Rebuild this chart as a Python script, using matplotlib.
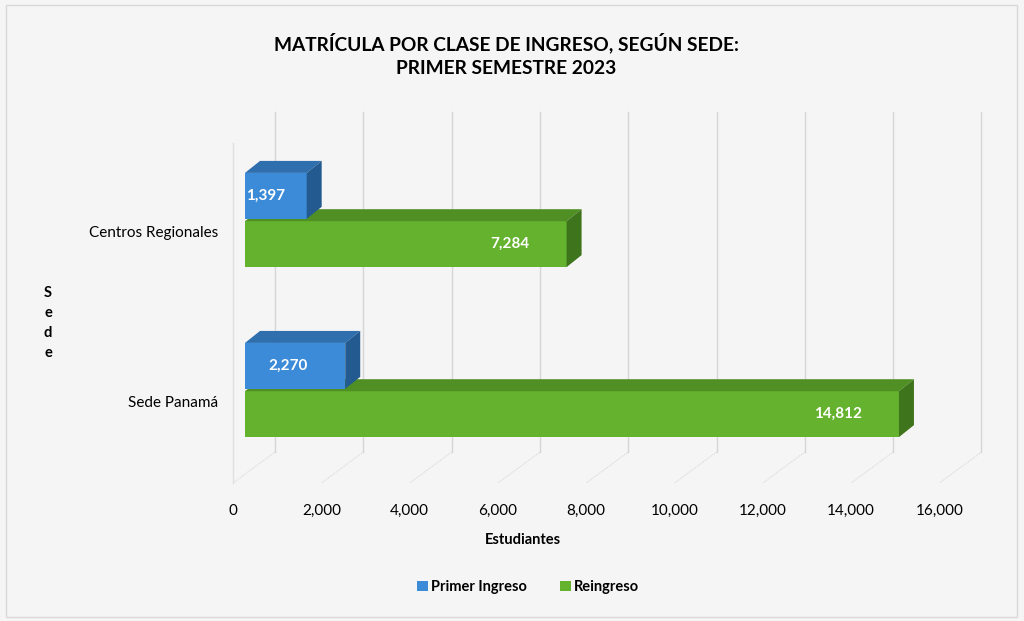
import matplotlib.pyplot as plt
from matplotlib.patches import Polygon, Rectangle
from matplotlib.transforms import ScaledTranslation

plt.rcParams['font.family'] = ['Lato', 'DejaVu Sans']

sedes = ['Centros Regionales', 'Sede Panamá']
primer_ingreso = [1397, 2270]
reingreso = [7284, 14812]
xticks = [0, 2000, 4000, 6000, 8000, 10000, 12000, 14000, 16000]

title = 'MATRÍCULA POR CLASE DE INGRESO, SEGÚN SEDE:\nPRIMER SEMESTRE 2023'

bg = '#f5f5f5'
blue = ('#3c8bd8', '#2f6fae', '#235a8f')     # front, top, side
green = ('#64b22e', '#4f8f24', '#3e751c')

fig = plt.figure(figsize=(10.24, 6.21), dpi=100, facecolor=bg)
fig.patches.append(Rectangle((0.006, 0.006), 0.987, 0.986, transform=fig.transFigure,
                             fill=False, ec='#d9d9d9', lw=1))
ax = fig.add_axes([245 / 1024, 1 - 490 / 621, 745 / 1024, 380 / 621])
ax.set_facecolor('none')
ax.set_xlim(0, 745 * 22.65)
ax.set_ylim(-0.588, 1.647)

# 3D-ish offsets (data units)
back_dx = 30 * 22.65
front_dx = -12 * 22.65
y_top, y_floor_back, y_floor_front = 1.635, -0.365, -0.547
for t in xticks:
    ax.plot([t + back_dx, t + back_dx], [y_floor_back, y_top], color='#d6d6d6', lw=1.0, zorder=1)
    ax.plot([t + back_dx, t + front_dx], [y_floor_back, y_floor_front], color='#d4d4d4',
            lw=0.7, ls=(0, (1, 1)), zorder=1, clip_on=False)
ax.plot([front_dx, front_dx], [y_floor_front, 1.45], color='#e0e0e0', lw=1, zorder=1,
        clip_on=False)

groups = [1, 0]
h = 0.27
off = 0.142
ddx = 15 * 22.65
ddy = 12 / 170


def bar3d(y, v, cols, label):
    ax.barh(y, v, height=h, left=0, color=cols[0], zorder=3, label=label)
    y1 = y + h / 2
    y0 = y - h / 2
    ax.add_patch(Polygon([(0, y1), (v, y1), (v + ddx, y1 + ddy), (ddx, y1 + ddy)],
                         closed=True, fc=cols[1], ec='none', zorder=3))
    ax.add_patch(Polygon([(v, y0), (v, y1), (v + ddx, y1 + ddy), (v + ddx, y0 + ddy)],
                         closed=True, fc=cols[2], ec='none', zorder=3))
    if v < 2000:
        ax.annotate(f'{v:,}', (0, y), xytext=(1, 0), textcoords='offset pixels',
                    ha='left', va='center', color='white', fontsize=11, fontweight='bold',
                    zorder=5)
    else:
        ax.annotate(f'{v:,}', (v, y), xytext=(-37, 0), textcoords='offset pixels',
                    ha='right', va='center', color='white', fontsize=11, fontweight='bold',
                    zorder=5)


for g, pi, ri in zip(groups, primer_ingreso, reingreso):
    bar3d(g - off, ri, green, 'Reingreso' if g == 1 else None)
    bar3d(g + off, pi, blue, 'Primer Ingreso' if g == 1 else None)

ax.set_yticks([g - 0.07 for g in groups])
ax.set_yticklabels(sedes, fontsize=11)
ax.set_xticks(xticks)
ax.set_xticklabels([f'{t:,}' for t in xticks], fontsize=11)
ax.tick_params(length=0)
ax.tick_params(axis='y', pad=19)
ax.tick_params(axis='x', pad=10)
for lab in ax.get_xticklabels():
    lab.set_transform(lab.get_transform() + ScaledTranslation(-0.12, 0, fig.dpi_scale_trans))
for s in ax.spines.values():
    s.set_visible(False)

fig.text(523 / 1024, 1 - 540 / 621, 'Estudiantes', ha='center', va='center',
         fontsize=10.5, fontweight='bold')
fig.text(48 / 1024, 1 - 323 / 621, 'S\ne\nd\ne', ha='center', va='center',
         fontsize=10.5, fontweight='bold', linespacing=1.55)
fig.text(506 / 1024, 1 - 55 / 621, title, ha='center', va='center',
         fontsize=13.8, fontweight='bold', linespacing=1.45)

handles, labels = ax.get_legend_handles_labels()
order = [1, 0]
leg = fig.legend([handles[i] for i in order], [labels[i] for i in order],
                 loc='center', bbox_to_anchor=(528 / 1024, 1 - 587 / 621), ncol=2,
                 frameon=False, handlelength=0.75, handleheight=0.75, handletextpad=0.2,
                 columnspacing=2.3, prop={'weight': 'bold', 'size': 10.5})

fig.savefig('out.png', dpi=100, facecolor=bg)
